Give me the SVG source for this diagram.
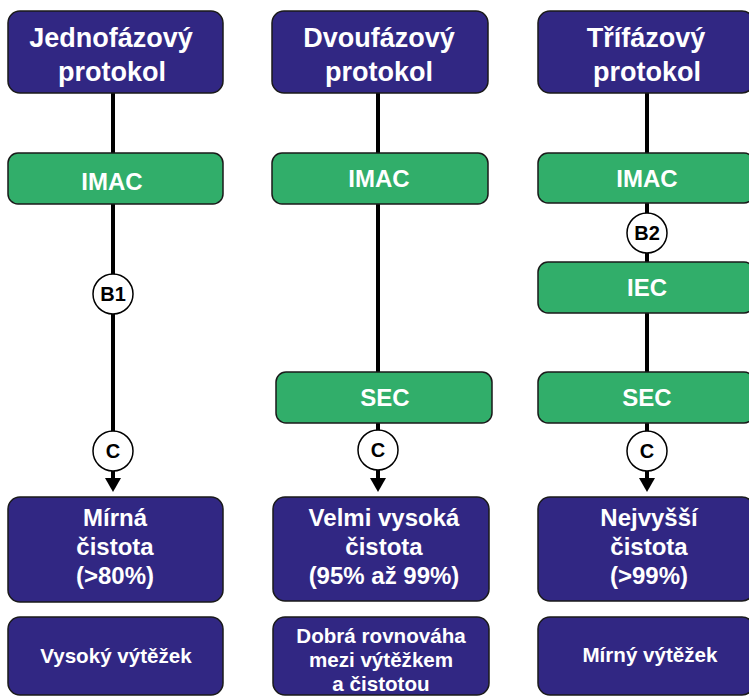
<svg xmlns="http://www.w3.org/2000/svg" width="749" height="697" viewBox="0 0 749 697">
<style>
.navy{fill:#312783;stroke:#1a1a1a;stroke-width:1.5}
.green{fill:#31AE6A;stroke:#1a1a1a;stroke-width:1.5}
.circ{fill:#ffffff;stroke:#000;stroke-width:1.5}
.t{font-family:"Liberation Sans",Arial,sans-serif;font-weight:bold;fill:#ffffff;text-anchor:middle}
.h{font-size:27px}
.m{font-size:24px}
.s{font-size:20.6px}
.c{font-family:"Liberation Sans",Arial,sans-serif;font-weight:bold;fill:#000;text-anchor:middle;font-size:20px}
.ln{stroke:#000;stroke-width:4;fill:none}
</style>
<defs>
<marker id="arr" markerUnits="userSpaceOnUse" markerWidth="14" markerHeight="16" viewBox="0 0 14 16" refX="0" refY="8" orient="auto">
<path d="M0,0 L14,8 L0,16 z" fill="#000"/>
</marker>
</defs>
<g id="connectors">
<line class="ln" x1="113" y1="93" x2="113" y2="153"/>
<line class="ln" x1="113" y1="204" x2="113" y2="478" marker-end="url(#arr)"/>
<line class="ln" x1="378" y1="93" x2="378" y2="153"/>
<line class="ln" x1="378" y1="204" x2="378" y2="372"/>
<line class="ln" x1="378" y1="423" x2="378" y2="478" marker-end="url(#arr)"/>
<line class="ln" x1="647" y1="93" x2="647" y2="153"/>
<line class="ln" x1="647" y1="203" x2="647" y2="262"/>
<line class="ln" x1="647" y1="313" x2="647" y2="372"/>
<line class="ln" x1="647" y1="423" x2="647" y2="478" marker-end="url(#arr)"/>
</g>
<g id="top1"><rect class="navy" x="8" y="11" width="215" height="82" rx="12"/><text class="t h" x="111" y="47">Jednofázový</text><text class="t h" x="112" y="81">protokol</text></g>
<g id="top2"><rect class="navy" x="272" y="11" width="216" height="82" rx="12"/><text class="t h" x="379" y="47">Dvoufázový</text><text class="t h" x="379" y="81">protokol</text></g>
<g id="top3"><rect class="navy" x="538" y="11" width="216" height="82" rx="12"/><text class="t h" x="646" y="47">Třífázový</text><text class="t h" x="647" y="81">protokol</text></g>
<g id="imac1"><rect class="green" x="8" y="153" width="215" height="51" rx="10"/><text class="t m" x="112" y="190">IMAC</text></g>
<g id="imac2"><rect class="green" x="272" y="153" width="216" height="51" rx="10"/><text class="t m" x="379" y="187">IMAC</text></g>
<g id="imac3"><rect class="green" x="538" y="153" width="216" height="50" rx="10"/><text class="t m" x="647" y="187">IMAC</text></g>
<g id="iec3"><rect class="green" x="538" y="262" width="216" height="51" rx="10"/><text class="t m" x="647" y="296">IEC</text></g>
<g id="sec2"><rect class="green" x="276" y="372" width="216" height="51" rx="10"/><text class="t m" x="385" y="406">SEC</text></g>
<g id="sec3"><rect class="green" x="538" y="372" width="216" height="51" rx="10"/><text class="t m" x="647" y="406">SEC</text></g>
<g id="b1"><circle class="circ" cx="113" cy="294" r="20"/><text class="c" x="113" y="301">B1</text></g>
<g id="b2"><circle class="circ" cx="647" cy="233" r="20"/><text class="c" x="647" y="240">B2</text></g>
<g id="c1"><circle class="circ" cx="113" cy="451" r="20"/><text class="c" x="113" y="458">C</text></g>
<g id="c2"><circle class="circ" cx="378" cy="450" r="20"/><text class="c" x="378" y="457">C</text></g>
<g id="c3"><circle class="circ" cx="647" cy="451" r="20"/><text class="c" x="647" y="458">C</text></g>
<g id="res1"><rect class="navy" x="8" y="497" width="215" height="105" rx="12"/><text class="t m" x="115" y="526">Mírná</text><text class="t m" x="115" y="555">čistota</text><text class="t m" x="115" y="584">(&gt;80%)</text></g>
<g id="res2"><rect class="navy" x="273" y="497" width="216" height="104" rx="12"/><text class="t m" x="384" y="526">Velmi vysoká</text><text class="t m" x="384" y="555">čistota</text><text class="t m" x="384" y="584">(95% až 99%)</text></g>
<g id="res3"><rect class="navy" x="538" y="497" width="216" height="104" rx="12"/><text class="t m" x="649" y="526">Nejvyšší</text><text class="t m" x="649" y="555">čistota</text><text class="t m" x="649" y="584">(&gt;99%)</text></g>
<g id="yield1"><rect class="navy" x="8" y="617" width="215" height="78" rx="12"/><text class="t s" x="116" y="663">Vysoký výtěžek</text></g>
<g id="yield2"><rect class="navy" x="273" y="617" width="216" height="78" rx="12"/><text class="t s" x="381" y="643">Dobrá rovnováha</text><text class="t s" x="381" y="667">mezi výtěžkem</text><text class="t s" x="381" y="691">a čistotou</text></g>
<g id="yield3"><rect class="navy" x="538" y="617" width="216" height="78" rx="12"/><text class="t s" x="650" y="662">Mírný výtěžek</text></g>
</svg>
